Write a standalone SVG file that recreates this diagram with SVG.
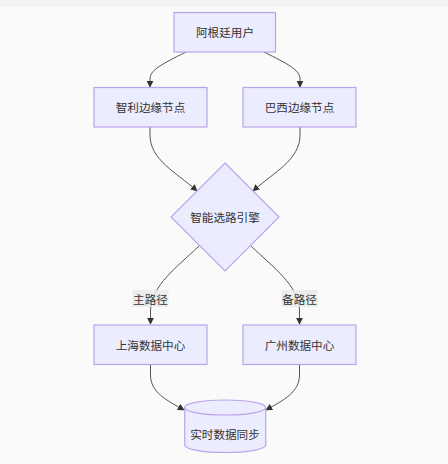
<svg xmlns="http://www.w3.org/2000/svg" width="448" height="464" viewBox="0 0 448 464">
<style>
.n{fill:#ECECFF;stroke:#B9A5EA;stroke-width:1.2}
.t{font-family:"Noto Sans CJK SC","Noto Sans",sans-serif;font-size:11.6px;fill:#333;text-anchor:middle;dominant-baseline:central}
.e{fill:none;stroke:#555;stroke-width:1}
.lb{fill:#E8E8E8;opacity:0.8}
</style>
<defs>
<marker id="ah" viewBox="0 0 10 10" refX="9" refY="5" markerWidth="7" markerHeight="7" orient="auto" markerUnits="userSpaceOnUse">
<path d="M0,0 L10,5 L0,10 z" fill="#333"/>
</marker>
</defs>
<rect x="0" y="0" width="448" height="464" fill="#FAFAFA"/>
<rect x="0" y="0" width="448" height="7" fill="#F3F3F3"/>
<g id="edges">
<path class="e" marker-end="url(#ah)" d="M186,52 C162,64 150,70 150,79 L150,87"/>
<path class="e" marker-end="url(#ah)" d="M264,52 C288,64 300,70 300,79 L300,87"/>
<path class="e" marker-end="url(#ah)" d="M150,127 L150,135 C150,160 176,172 197,191"/>
<path class="e" marker-end="url(#ah)" d="M300,127 L300,135 C300,160 274,172 253,191"/>
<path class="e" marker-end="url(#ah)" d="M199,246 C176,268 152,285 150.5,310 L150.5,324"/>
<path class="e" marker-end="url(#ah)" d="M251,246 C274,268 298,285 299.5,310 L299.5,324"/>
<path class="e" marker-end="url(#ah)" d="M150.5,364 L150.5,375 C150.5,392 166,400 184,410"/>
<path class="e" marker-end="url(#ah)" d="M299.5,364 L299.5,375 C299.5,392 284,400 266,410"/>
<rect class="lb" x="132.5" y="290" width="36" height="17"/>
<text class="t" x="150.5" y="298.5">主路径</text>
<rect class="lb" x="281.5" y="290" width="36" height="17"/>
<text class="t" x="299.5" y="298.5">备路径</text>
</g>
<g id="n_ar">
<rect class="n" x="174" y="12.5" width="101.5" height="39.5"/>
<text class="t" x="225" y="32">阿根廷用户</text>
</g>
<g id="n_cl">
<rect class="n" x="94" y="87.5" width="113" height="39.5"/>
<text class="t" x="150.5" y="107">智利边缘节点</text>
</g>
<g id="n_br">
<rect class="n" x="243" y="87.5" width="113" height="39.5"/>
<text class="t" x="299.5" y="107">巴西边缘节点</text>
</g>
<g id="n_eng">
<polygon class="n" points="225,163 279,217 225,271 171,217"/>
<text class="t" x="225" y="217">智能选路引擎</text>
</g>
<g id="n_sh">
<rect class="n" x="94" y="325" width="113" height="39.5"/>
<text class="t" x="150.5" y="344.5">上海数据中心</text>
</g>
<g id="n_gz">
<rect class="n" x="243" y="325" width="113" height="39.5"/>
<text class="t" x="299.5" y="344.5">广州数据中心</text>
</g>
<g id="n_sync">
<path class="n" d="M184.7,407.5 A40.5,7.5 0 0 1 265.7,407.5 L265.7,445 A40.5,7.5 0 0 1 184.7,445 Z"/>
<path class="n" fill="none" d="M184.7,407.5 A40.5,7.5 0 0 0 265.7,407.5" style="fill:none"/>
<text class="t" x="225" y="434">实时数据同步</text>
</g>
</svg>
